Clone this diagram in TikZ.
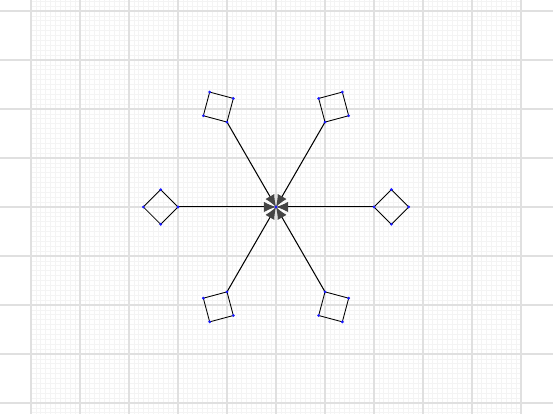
\documentclass[tikz,border=0pt]{standalone}
\usepackage{tikz}
\usetikzlibrary{shapes.geometric}
\usetikzlibrary{positioning}
\usetikzlibrary{calc}
\usetikzlibrary{arrows.meta}
\definecolor{minorgrid}{HTML}{F4F4F4}
\definecolor{majorgrid}{HTML}{E0E0E0}
\definecolor{hubgray}{HTML}{454545}
\definecolor{dotblue}{HTML}{1A1AFF}
\tikzset{every picture/.style={line width=0.6pt},
  pad/.style={draw,shape=rectangle,minimum size=0.5cm,inner sep=0pt,outer sep=0pt,line width=0.5pt},
  spoke/.style={-{Latex[color=hubgray,length=7pt,width=6pt]},line width=0.6pt},
  vdot/.style={fill=dotblue,circle,inner sep=0pt,minimum size=1.8pt}}

\begin{document}
\begin{tikzpicture}
\useasboundingbox (-5.633,-4.224) rectangle (5.653,4.224);
\draw[minorgrid,line width=0.4pt] (-5,-4.3) grid[step=0.1] (5,4.3);
\draw[majorgrid,line width=0.8pt] (-5.633,-4.224) grid[step=1] (5.653,4.224);
\coordinate (hub) at (0,0);
\node[pad,rotate=-45] (padR) at (0:2.354) {};
\node[pad,rotate=15] (padUR) at (60:2.354) {};
\node[pad,rotate=75] (padUL) at (120:2.354) {};
\node[pad,rotate=135] (padL) at (180:2.354) {};
\node[pad,rotate=195] (padDL) at (240:2.354) {};
\node[pad,rotate=255] (padDR) at (300:2.354) {};
\draw[spoke] (padR.south west) -- (hub);
\draw[spoke] (padUR.south west) -- (hub);
\draw[spoke] (padUL.south west) -- (hub);
\draw[spoke] (padL.south west) -- (hub);
\draw[spoke] (padDL.south west) -- (hub);
\draw[spoke] (padDR.south west) -- (hub);
\foreach \p in {padR,padUR,padUL,padL,padDL,padDR}
  \foreach \c in {north east,north west,south east,south west}
    \node[vdot] at (\p.\c) {};
\node[vdot] at (hub) {};
\end{tikzpicture}
\end{document}
